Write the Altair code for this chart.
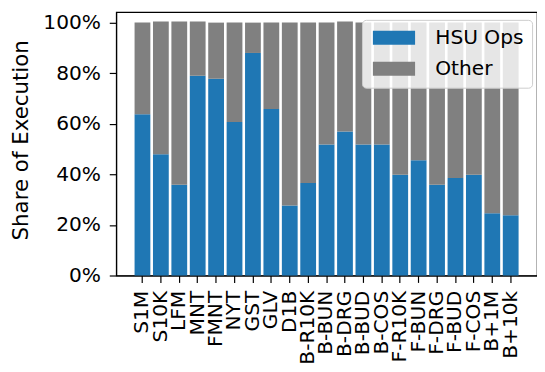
import altair as alt
import pandas as pd

categories = ["S1M", "S10K", "LFM", "MNT", "FMNT", "NYT", "GST", "GLV", "D1B",
              "B-R10K", "B-BUN", "B-DRG", "B-BUD", "B-COS", "F-R10K", "F-BUN",
              "F-DRG", "F-BUD", "F-COS", "B+1M", "B+10k"]
hsu_ops = [63.8, 47.9, 35.9, 79.0, 77.8, 60.7, 88.0, 65.8, 27.7, 36.6, 51.8,
           56.9, 51.8, 51.8, 39.8, 45.6, 35.9, 38.6, 39.8, 24.6, 23.8]
other = [36.2, 52.5, 64.5, 21.4, 22.2, 39.3, 12.0, 34.2, 72.3, 63.4, 48.2,
         43.5, 48.2, 48.2, 60.2, 54.4, 64.1, 61.4, 60.2, 75.4, 76.2]
series = ["HSU Ops", "Other"]
colors = ["#1f77b4", "#808080"]
y_ticks = [0, 20, 40, 60, 80, 100]

rows = []
for c, h, o in zip(categories, hsu_ops, other):
    rows.append({"cat": c, "series": series[0], "value": h, "ord": 0})
    rows.append({"cat": c, "series": series[1], "value": o, "ord": 1})
df = pd.DataFrame(rows)

FONT = "DejaVu Sans"

chart = alt.Chart(df).mark_bar().encode(
    x=alt.X("cat:N", sort=categories, title=None,
            scale=alt.Scale(paddingInner=0.143, paddingOuter=1),
            axis=alt.Axis(labelAngle=-90, labelFontSize=20.5, labelPadding=8,
                          tickSize=7)),
    y=alt.Y("value:Q", stack="zero",
            scale=alt.Scale(domain=[0, 104.2], nice=False, zero=True),
            axis=alt.Axis(values=y_ticks, labelExpr="datum.value + '%'",
                          title="Share of Execution", labelFontSize=20.5,
                          labelPadding=9, tickSize=7, titleFontSize=21.7,
                          titleFontWeight="normal", titlePadding=11,
                          titleY=130)),
    color=alt.Color("series:N", scale=alt.Scale(domain=series, range=colors),
                    legend=alt.Legend(title=None, orient="none", legendX=250,
                                      legendY=8, padding=8,
                                      fillColor="rgba(255,255,255,0.8)",
                                      strokeColor="#cccccc", cornerRadius=4,
                                      symbolType="M-1,-1H5V1H-1Z",
                                      symbolSize=204.5, symbolStrokeWidth=0,
                                      symbolOpacity=1,
                                      labelFontSize=20.5, labelOffset=46,
                                      rowPadding=10.5, labelColor="black")),
    order=alt.Order("ord:Q"),
).properties(
    width=428, height=268,
    padding={"left": 2, "top": 1, "right": 0, "bottom": 0},
).configure(font=FONT).configure_view(
    stroke="black", strokeWidth=1.2
).configure_axis(
    grid=False, domainColor="black", domainWidth=1.2, tickColor="black",
    tickWidth=1.2, labelColor="black", titleColor="black", labelFont=FONT,
    titleFont=FONT
).configure_legend(labelFont=FONT)

chart.save("out.html", embed_options={"renderer": "svg", "actions": False})
